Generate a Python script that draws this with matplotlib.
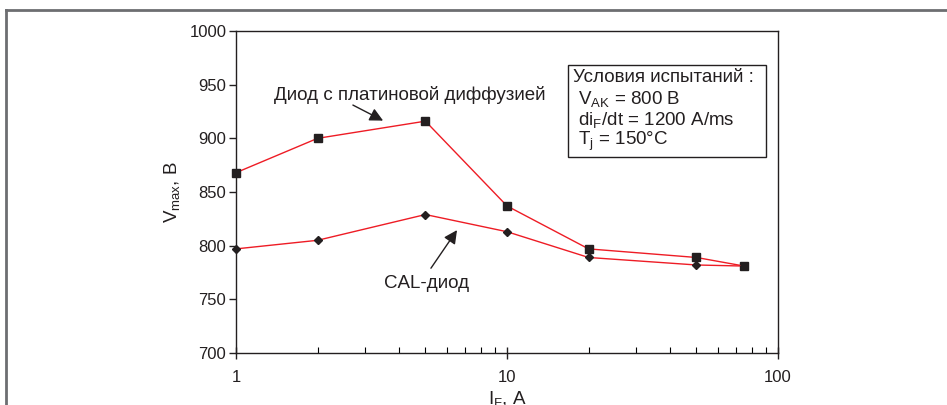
import matplotlib
matplotlib.use("Agg")
import matplotlib.pyplot as plt
from matplotlib.lines import Line2D
from matplotlib.patches import Rectangle
from matplotlib.ticker import LogLocator, NullFormatter, FixedLocator

plt.rcParams['font.family'] = ['Liberation Sans', 'DejaVu Sans']
plt.rcParams['mathtext.fontset'] = 'custom'
plt.rcParams['mathtext.rm'] = 'Liberation Sans'
plt.rcParams['mathtext.it'] = 'Liberation Sans'

# data
current_a = [1, 2, 5, 10, 20, 50, 75]
v_platinum = [868, 900, 916, 837, 797, 789, 781]
v_cal = [797, 805, 829, 813, 789, 782, 781]

x_ticks = [1, 10, 100]
y_ticks = [700, 750, 800, 850, 900, 950, 1000]

fig = plt.figure(figsize=(9.47, 4.05), dpi=100)
W, H = 947, 405
ax = fig.add_axes([236 / W, 1 - 353 / H, (778 - 236) / W, (353 - 31) / H])

ink = '#231f20'
red = '#ee1c25'
ax.plot(current_a, v_platinum, color=red, lw=1.0, marker='s', ms=5.5,
        mfc=ink, mec=ink, zorder=3, clip_on=False)
ax.plot(current_a, v_cal, color=red, lw=1.0, marker='D', ms=3.8,
        mfc=ink, mec=ink, zorder=3, clip_on=False)

ax.set_xscale('log')
ax.set_xlim(1, 100)
ax.set_ylim(700, 1000)
ax.xaxis.set_major_locator(FixedLocator(x_ticks))
ax.set_xticklabels([str(t) for t in x_ticks])
ax.xaxis.set_minor_locator(LogLocator(base=10, subs=range(2, 10)))
ax.xaxis.set_minor_formatter(NullFormatter())
ax.set_yticks(y_ticks)
ax.set_yticklabels([str(t) for t in y_ticks])

ax.tick_params(axis='x', which='major', direction='inout', length=8, width=1,
               labelsize=12, pad=8, colors=ink)
ax.tick_params(axis='x', which='minor', direction='in', length=4, width=0.8)
ax.tick_params(axis='y', direction='out', length=5, width=1,
               labelsize=12, pad=2, colors=ink)
for s in ax.spines.values():
    s.set_color(ink)
    s.set_linewidth(1.0)

ax.set_ylabel(r'V$_{\mathregular{max}}$, В', fontsize=13.5, color=ink, labelpad=5)
ax.set_xlabel(r'I$_{\mathregular{F}}$, A', fontsize=13.5, color=ink, labelpad=3)

arrow = dict(arrowstyle='-|>', color=ink, lw=1.0, mutation_scale=20,
             shrinkA=0, shrinkB=0)
ax.text(4.39, 940.5, 'Диод с платиновой диффузией', fontsize=13.5,
        ha='center', va='center', color=ink)
ax.annotate('', xy=(3.49, 916.5), xytext=(2.70, 931), arrowprops=arrow)
ax.text(5.07, 765, 'CAL-диод', fontsize=13.5, ha='center', va='center', color=ink)
ax.annotate('', xy=(6.54, 814.5), xytext=(5.24, 779), arrowprops=arrow)

# conditions box
fig.add_artist(Rectangle((568 / W, 1 - 157 / H), (766 - 568) / W, (157 - 65) / H,
                         transform=fig.transFigure, fill=False,
                         edgecolor=ink, lw=1.0))
cond_lines = ['Условия испытаний :',
              r' V$_{\mathregular{AK}}$ = 800 В',
              r' di$_{\mathregular{F}}$/dt = 1200 A/ms',
              r' T$_{\mathregular{j}}$ = 150°C']
for i, line in enumerate(cond_lines):
    fig.text(573 / W, 1 - (78 + 21 * i) / H, line, fontsize=13.5,
             va='center', ha='left', color=ink)

# outer frame
fig.add_artist(Line2D([6 / W, 1.0], [1 - 10 / H, 1 - 10 / H],
                      transform=fig.transFigure, color='#6d6e71', lw=2.0))
fig.add_artist(Line2D([6 / W, 6 / W], [0, 1 - 10 / H],
                      transform=fig.transFigure, color='#6d6e71', lw=2.0))

fig.savefig('out.png', dpi=100)
